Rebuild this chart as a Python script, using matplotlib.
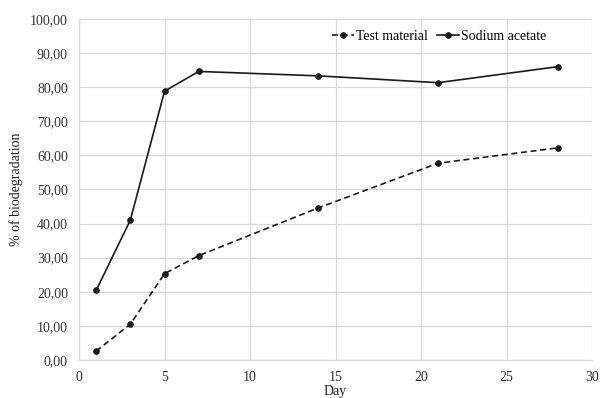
import matplotlib
matplotlib.use("Agg")
import matplotlib.pyplot as plt
from matplotlib.lines import Line2D
from matplotlib.ticker import FuncFormatter, MultipleLocator

plt.rcParams['font.family'] = ['Liberation Serif', 'DejaVu Serif']

days = [1, 3, 5, 7, 14, 21, 28]
test_material = [2.6, 10.5, 25.3, 30.6, 44.6, 57.7, 62.2]
sodium_acetate = [20.4, 41.0, 78.8, 84.6, 83.3, 81.3, 86.0]
series_names = ["Test material", "Sodium acetate"]

fig = plt.figure(figsize=(6.0, 3.98), dpi=100)
ax = fig.add_axes([0.1317, 0.0955, 0.855, 0.857])

lw = 1.2
dash = (0, (3.6, 2.2))
styles = [dash, '-']
for yv, ls in zip([test_material, sodium_acetate], styles):
    ax.plot(days, yv, linestyle=ls, linewidth=lw, marker='o', markersize=3.8,
            color='#1a1a1a', zorder=3)

ax.set_xlim(0, 30)
ax.set_ylim(0, 100)
ax.xaxis.set_major_locator(MultipleLocator(5))
ax.yaxis.set_major_locator(MultipleLocator(10))
ax.yaxis.set_major_formatter(FuncFormatter(lambda v, p: f"{v:.2f}".replace('.', ',')))
ax.grid(True, color='#d9d9d9', linewidth=0.9, zorder=0)
ax.set_axisbelow(True)
for s in ['top', 'right']:
    ax.spines[s].set_visible(False)
for s in ['left', 'bottom']:
    ax.spines[s].set_color('#d9d9d9')
    ax.spines[s].set_linewidth(0.9)
ax.tick_params(length=0, labelsize=10, pad=8, colors='#333333')
ax.set_xlabel("Day", fontsize=10, labelpad=1, color='#222222')
ax.set_ylabel("% of biodegradation", fontsize=10, labelpad=5, color='#222222')

handles = [Line2D([], [], color='#1a1a1a', linestyle=s, linewidth=lw,
                  marker='o', markersize=3.8) for s in styles]
ax.legend(handles, series_names, loc='upper right', bbox_to_anchor=(0.935, 1.005), ncol=2,
          frameon=False, fontsize=10, handlelength=1.6, handletextpad=0.15,
          columnspacing=0.6)

fig.savefig("out.png", dpi=100)
